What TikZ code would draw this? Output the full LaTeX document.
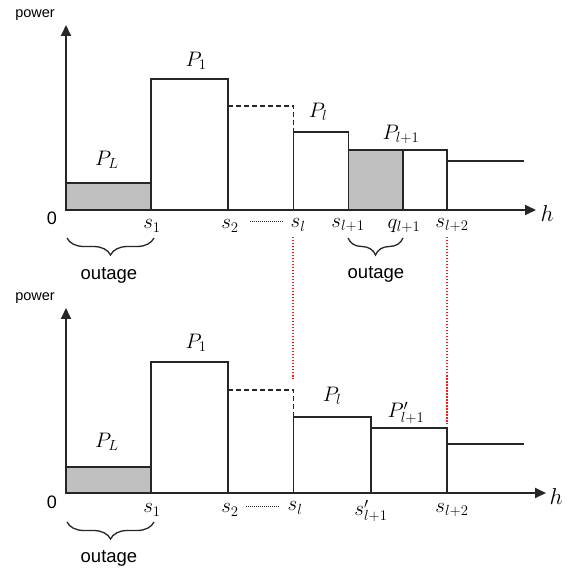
\documentclass[tikz,border=0pt]{standalone}
\usepackage{fix-cm}
\usepackage{fontspec}
\setsansfont{Liberation Sans}
\usetikzlibrary{arrows.meta,decorations.pathreplacing}
\definecolor{linec}{HTML}{262626}
\definecolor{greyfill}{HTML}{C0C0C0}
\definecolor{guidered}{HTML}{FF1A1A}
\tikzset{
  barbox/.style={draw=linec, line width=1.4pt},
  shadedbox/.style={barbox, fill=greyfill},
  axisline/.style={draw=linec, line width=1.8pt, -{Triangle[length=11pt,width=10pt]}},
  dashedline/.style={draw=linec, line width=1.3pt, dash pattern=on 5pt off 3pt},
  dotsline/.style={draw=linec, line width=1pt, dash pattern=on 1pt off 1pt},
  mlab/.style={font=\fontsize{21}{25}\selectfont, inner sep=0pt},
  hlab/.style={font=\fontsize{23}{27}\selectfont, inner sep=0pt},
  plab/.style={font=\fontsize{14.5}{17}\selectfont\sffamily, inner sep=0pt},
  zlab/.style={font=\fontsize{18}{21}\selectfont\sffamily, inner sep=0pt},
  olab/.style={font=\fontsize{18.5}{22}\selectfont\sffamily, inner sep=0pt},
  guideline/.style={draw=guidered, line width=1.2pt, dash pattern=on 1.5pt off 1.5pt},
  bracemark/.style={draw=linec, line width=1.3pt, decorate, decoration={brace, mirror, amplitude=17pt}}
}
\begin{document}
\begin{tikzpicture}[x=1pt,y=-1pt]
\useasboundingbox (0,0) rectangle (576,569);

% ---------------- top panel ----------------
\coordinate (o1) at (66,210);
\coordinate (ya1) at (66,25);
\coordinate (xa1) at (536,210);
\draw[shadedbox] (66,183) rectangle (151,210);
\draw[barbox] (151,79) rectangle (228,210);
\draw[dashedline] (228,106) -- (293.5,106) -- (293.5,132);
\draw[barbox] (293.5,132) rectangle (348.5,210);
\draw[shadedbox] (348.5,150) rectangle (403,210);
\draw[barbox] (403,150) rectangle (447,210);
\draw[draw=linec, line width=1.4pt] (447,161) -- (524,161);
\draw[axisline] (o1) -- (ya1);
\draw[axisline] (o1) -- (xa1);

\node[plab] (pow1) at (35,15) {power};
\node[zlab] (zero1) at (52,218) {0};
\node[hlab] (h1) at (547,214) {$h$};
\node[mlab] (PL1) at (107,160) {$P_L$};
\node[mlab] (P11) at (196,61) {$P_1$};
\node[mlab] (Pl1) at (318,112) {$P_l$};
\node[mlab] (Plp1) at (401,134) {$P_{l+1}$};
\node[mlab] (s11) at (152,226) {$s_1$};
\node[mlab] (s21) at (230,226) {$s_2$};
\node[mlab] (sl1) at (298,225) {$s_l$};
\node[mlab] (slp1) at (348,225) {$s_{l+1}$};
\node[mlab] (qlp1) at (404,226) {$q_{l+1}$};
\node[mlab] (slpp1) at (452,225) {$s_{l+2}$};
\coordinate (d1a) at (250,222);
\coordinate (d1b) at (283,222);
\draw[dotsline] (d1a) -- (d1b);

\coordinate (b1a) at (67,238);
\coordinate (b1b) at (154,238);
\draw[bracemark] (b1a) -- (b1b);
\node[olab] (out1) at (109,275) {outage};
\coordinate (b2a) at (348,238);
\coordinate (b2b) at (403,238);
\draw[bracemark] (b2a) -- (b2b);
\node[olab] (out2) at (376,274) {outage};

% guide lines
\coordinate (g1a) at (293,237);
\coordinate (g1b) at (293,379);
\coordinate (g2a) at (447,237);
\coordinate (g2b) at (447,424);
\draw[guideline] (g1a) -- (g1b);
\draw[guideline] (g2a) -- (g2b);

% ---------------- bottom panel ----------------
\coordinate (o2) at (66,493);
\coordinate (ya2) at (66,308);
\coordinate (xa2) at (546,493);
\draw[shadedbox] (66,467) rectangle (151,493);
\draw[barbox] (151,362) rectangle (228,493);
\draw[dashedline] (228,390) -- (293.5,390) -- (293.5,417);
\draw[barbox] (293.5,417) rectangle (371,493);
\draw[barbox] (371,428) rectangle (447,493);
\draw[draw=linec, line width=1.4pt] (447,444) -- (524,444);
\draw[axisline] (o2) -- (ya2);
\draw[axisline] (o2) -- (xa2);

\node[plab] (pow2) at (35,298) {power};
\node[zlab] (zero2) at (52,502) {0};
\node[hlab] (h2) at (556,497) {$h$};
\node[mlab] (PL2) at (107,442) {$P_L$};
\node[mlab] (P12) at (196,343) {$P_1$};
\node[mlab] (Pl2) at (332,396) {$P_l$};
\node[mlab] (Plp2) at (406,413) {$P'_{l+1}$};
\node[mlab] (s12) at (152,510) {$s_1$};
\node[mlab] (s22) at (230,510) {$s_2$};
\node[mlab] (sl2) at (295,508) {$s_l$};
\node[mlab] (slp2) at (371,511) {$s'_{l+1}$};
\node[mlab] (slpp2) at (452,510) {$s_{l+2}$};
\coordinate (d2a) at (246,506);
\coordinate (d2b) at (279,506);
\draw[dotsline] (d2a) -- (d2b);

\coordinate (b3a) at (67,522);
\coordinate (b3b) at (154,522);
\draw[bracemark] (b3a) -- (b3b);
\node[olab] (out3) at (109,558) {outage};
\end{tikzpicture}
\end{document}
